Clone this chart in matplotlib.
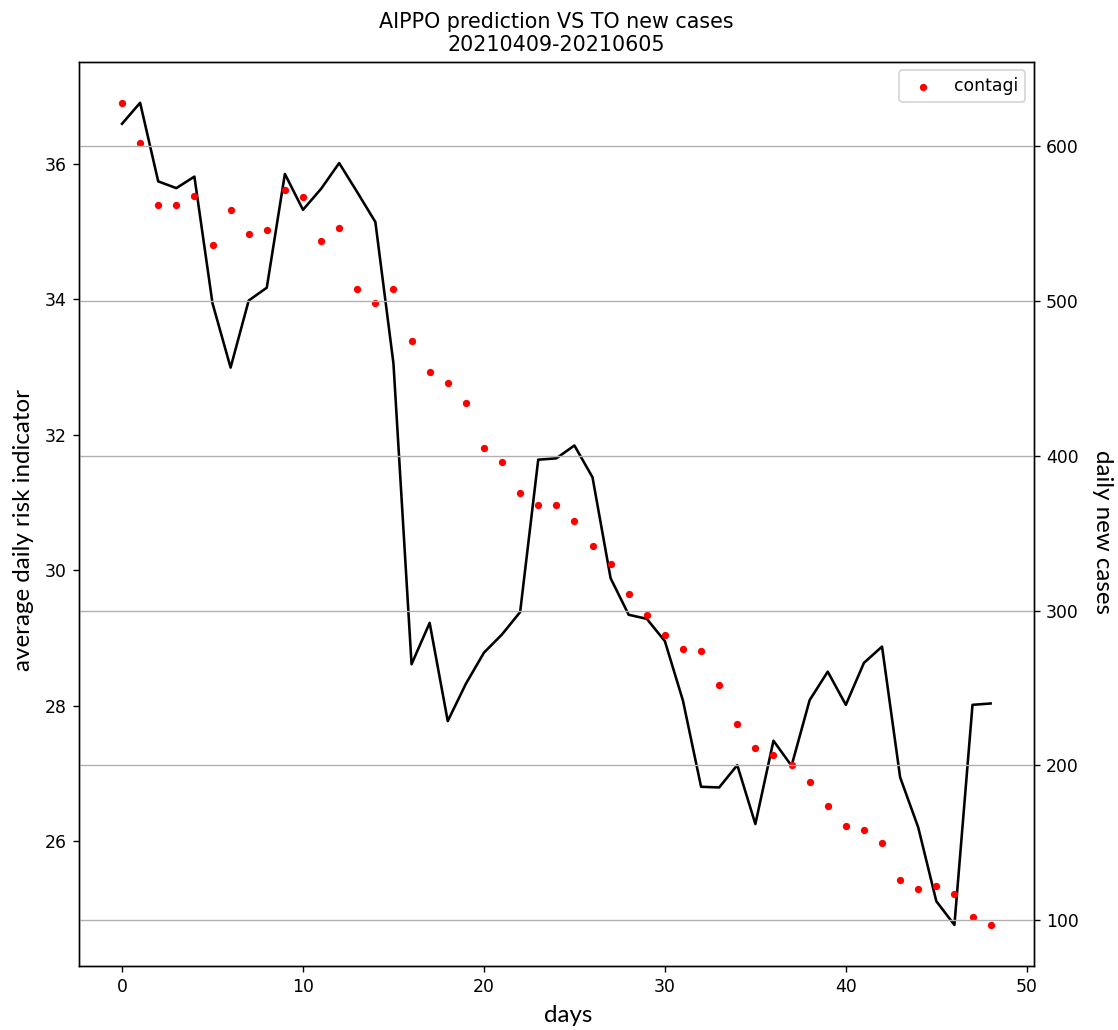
import matplotlib
matplotlib.use("Agg")
import matplotlib.pyplot as plt

# Daily series, 2021-04-09 .. 2021-06-05 window (49 days)
days = list(range(49))

risk_indicator = [
    36.59, 36.90, 35.74, 35.64, 35.81, 33.94, 32.99, 33.98, 34.17, 35.85,
    35.32, 35.63, 36.01, 35.58, 35.14, 33.05, 28.61, 29.22, 27.77, 28.32,
    28.78, 29.05, 29.38, 31.63, 31.65, 31.84, 31.37, 29.88, 29.34, 29.28,
    28.95, 28.07, 26.80, 26.79, 27.12, 26.25, 27.48, 27.11, 28.08, 28.50,
    28.01, 28.63, 28.87, 26.94, 26.20, 25.11, 24.76, 28.01, 28.03,
]

contagi = [
    628, 602, 562, 562, 568, 536, 559, 543, 546, 572,
    567, 539, 547, 508, 499, 508, 474, 454, 447, 434,
    405, 396, 376, 368, 368, 358, 342, 330, 311, 297,
    284, 275, 274, 252, 227, 211, 207, 200, 189, 174,
    161, 158, 150, 126, 120, 122, 117, 102, 97,
]

title_text = "AIPPO prediction VS TO new cases\n20210409-20210605"
label_font = ["Lato", "DejaVu Sans"]

DPI = 124
fig = plt.figure(figsize=(1118 / DPI, 1030 / DPI), dpi=DPI)
ax = fig.add_axes([0.0703, 0.0621, 0.8546, 0.8780])

ax.plot(days, risk_indicator, color="black", linewidth=1.5)
ax.set_title(title_text)

ax2 = ax.twinx()
ax2.scatter(days, contagi, color="red", s=18, linewidths=0, label="contagi")
ax2.grid(axis="y")
ax2.legend(loc="upper right")

# axis titles
fig.text(568 / 1118, 1 - 1016 / 1030, "days", family=label_font,
         fontsize=14, ha="center", va="center")
fig.text(24 / 1118, 1 - 530 / 1030, "average daily risk indicator",
         family=label_font, fontsize=14, rotation=90,
         ha="center", va="center")
fig.text(1103 / 1118, 1 - 532 / 1030, "daily new cases",
         family=label_font, fontsize=14, rotation=270,
         ha="center", va="center")

fig.savefig("out.png", dpi=DPI)
